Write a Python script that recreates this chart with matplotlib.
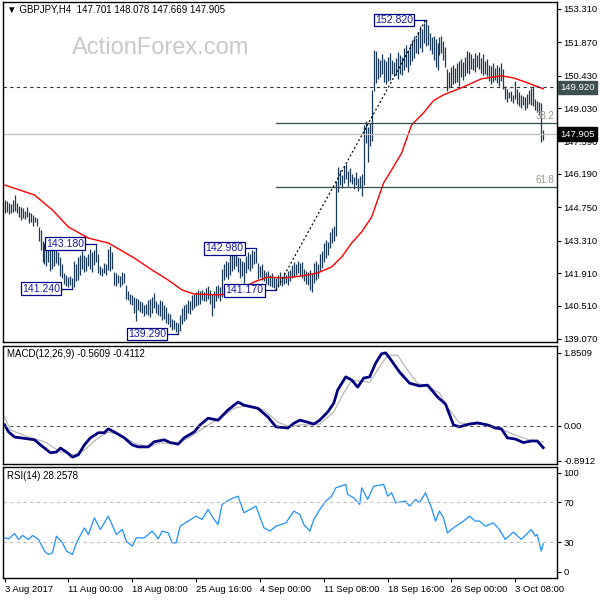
import matplotlib
matplotlib.use('Agg')
import matplotlib.pyplot as plt

plt.rcParams['font.family'] = ['Liberation Sans', 'DejaVu Sans']

# GBPJPY H4 bars (high / low), one per bar from 3 Aug 2017
highs = [
    145.05, 145.00, 144.95, 144.90, 145.05, 145.30, 144.95, 144.80, 144.75, 144.70,
    144.60, 144.75, 144.55, 144.50, 144.40, 144.35, 144.30, 143.90, 143.75, 143.30,
    143.20, 143.15, 143.35, 143.25, 143.10, 142.90, 143.00, 142.80, 142.60, 142.30,
    141.90, 141.85, 141.75, 141.80, 141.70, 142.45, 142.30, 142.60, 142.70, 142.85,
    142.70, 142.60, 142.75, 142.95, 142.80, 142.90, 143.18, 142.75, 142.20, 142.15,
    142.35, 142.30, 142.95, 143.10, 142.80, 141.95, 141.90, 141.85, 141.80, 141.95,
    141.90, 141.40, 141.15, 141.00, 140.95, 140.90, 140.85, 140.80, 140.70, 140.65,
    140.55, 140.60, 140.75, 140.80, 140.90, 141.05, 140.70, 140.60, 140.75, 140.70,
    140.55, 140.45, 140.20, 140.15, 139.95, 139.90, 139.80, 139.75, 140.10, 140.40,
    140.55, 140.60, 140.75, 140.70, 140.95, 141.00, 141.10, 141.20, 141.15, 141.20,
    141.10, 141.25, 141.35, 141.20, 141.00, 141.15, 141.35, 141.40, 141.30, 142.10,
    142.30, 142.45, 142.40, 142.70, 142.85, 142.80, 142.75, 142.60, 142.55, 142.45,
    142.40, 142.65, 142.80, 142.75, 142.90, 142.85, 142.98, 142.35, 142.20, 142.30,
    142.05, 141.95, 142.00, 141.85, 141.90, 141.75, 141.70, 141.85, 141.95, 141.80,
    141.95, 141.85, 142.00, 142.05, 142.25, 142.40, 142.30, 142.45, 142.35, 142.40,
    142.10, 142.00, 141.95, 142.05, 141.90, 142.35, 142.45, 142.30, 142.75, 142.85,
    143.20, 143.35, 143.25, 143.70, 143.85, 143.95, 145.90, 146.50, 146.35, 146.15,
    146.55, 146.60, 146.30, 146.45, 146.20, 146.05, 146.25, 146.00, 146.10, 146.20,
    148.30, 148.45, 148.20, 148.40, 149.80, 151.55, 151.50, 151.20, 151.10, 151.35,
    151.15, 151.05, 151.25, 151.40, 151.10, 151.00, 151.20, 151.45, 151.30, 151.25,
    151.60, 151.75, 151.55, 151.80, 151.95, 152.15, 152.05, 152.30, 152.55, 152.45,
    152.70, 152.82, 152.60, 152.25, 152.10, 152.15, 152.00, 151.85, 152.10, 152.15,
    151.90, 151.65, 150.70, 150.60, 150.80, 150.90, 150.75, 150.95, 151.05, 151.15,
    151.00, 151.25, 151.50, 151.45, 151.35, 151.20, 151.40, 151.30, 151.45, 151.20,
    151.35, 151.05, 151.15, 150.90, 150.85, 150.95, 150.75, 150.90, 150.80, 150.95,
    150.70, 150.00, 149.85, 149.70, 149.75, 149.60, 150.20, 149.85, 149.70, 149.60,
    149.55, 149.50, 149.65, 149.80, 149.90, 150.00, 149.40, 149.35, 149.30, 149.25,
    148.078,
]
lows = [
    144.50, 144.55, 144.45, 144.50, 144.55, 144.60, 144.50, 144.35, 144.20, 144.30,
    144.25, 144.35, 144.05, 144.10, 143.95, 144.10, 143.95, 143.30, 142.90, 142.40,
    142.30, 142.20, 142.40, 142.00, 142.10, 142.20, 142.35, 142.25, 141.80, 141.70,
    141.45, 141.35, 141.30, 141.40, 141.24, 141.30, 141.55, 141.60, 141.85, 142.10,
    141.95, 142.00, 142.20, 142.10, 141.95, 142.25, 142.40, 141.90, 141.85, 141.80,
    141.90, 141.85, 142.05, 142.00, 142.10, 141.40, 141.35, 141.50, 141.30, 141.40,
    141.50, 140.80, 140.75, 140.60, 140.55, 140.20, 139.85, 140.30, 140.25, 140.20,
    140.05, 140.15, 140.10, 140.00, 140.20, 140.40, 140.20, 140.10, 140.05, 139.90,
    139.95, 139.75, 139.70, 139.60, 139.45, 139.50, 139.35, 139.29, 139.40, 139.70,
    139.85, 139.95, 140.20, 140.15, 140.30, 140.40, 140.50, 140.55, 140.60, 140.75,
    140.70, 140.70, 140.80, 140.60, 140.05, 140.40, 140.70, 140.85, 140.70, 140.90,
    141.60, 141.75, 141.65, 141.85, 142.00, 142.10, 142.20, 141.95, 141.70, 141.80,
    141.50, 141.90, 142.10, 142.00, 142.15, 142.30, 142.35, 141.65, 141.75, 141.60,
    141.55, 141.45, 141.40, 141.35, 141.30, 141.25, 141.17, 141.30, 141.40, 141.35,
    141.45, 141.50, 141.40, 141.55, 141.70, 141.75, 141.85, 141.90, 141.80, 141.70,
    141.55, 141.45, 141.40, 141.20, 141.10, 141.50, 141.60, 141.70, 142.00, 142.15,
    142.40, 142.55, 142.70, 143.00, 143.20, 143.30, 143.50, 145.40, 145.70, 145.60,
    145.80, 145.95, 145.65, 145.85, 145.75, 145.55, 145.70, 145.45, 145.60, 145.25,
    145.70, 147.50, 146.70, 147.40, 147.60, 149.75, 150.10, 150.30, 150.35, 150.50,
    150.15, 150.05, 150.20, 150.25, 150.50, 150.40, 150.45, 150.30, 150.50, 150.45,
    150.65, 150.80, 150.60, 150.90, 151.05, 151.20, 151.40, 151.35, 151.60, 151.45,
    151.85, 151.70, 151.75, 151.55, 151.35, 151.10, 150.80, 150.65, 151.30, 151.40,
    151.10, 150.80, 149.75, 149.90, 149.95, 150.05, 150.10, 150.15, 150.00, 150.35,
    150.25, 150.40, 150.55, 150.50, 150.70, 150.65, 150.60, 150.80, 150.70, 150.55,
    150.45, 150.50, 150.40, 150.20, 150.05, 150.15, 150.25, 150.10, 150.00, 150.20,
    149.85, 149.40, 149.30, 149.45, 149.35, 149.25, 149.40, 149.20, 149.10, 149.05,
    149.15, 148.95, 149.05, 149.20, 149.15, 149.10, 148.95, 148.85, 148.75, 147.55,
    147.669,
]

# red moving average (bar index, value)
ma_idx = [0, 15, 24, 32, 42, 52, 65, 74, 82, 89, 95, 107, 115, 125, 132, 140, 149,
          157, 164, 169, 174, 179, 184, 187, 190, 194, 199, 204, 210, 215, 220, 229,
          239, 249, 255, 262, 270]
ma_val = [145.71, 145.28, 144.63, 143.90, 143.42, 143.21, 142.56, 142.04, 141.61,
          141.18, 141.01, 140.97, 141.05, 141.53, 141.74, 141.70, 141.79, 141.92,
          142.18, 142.61, 143.21, 143.69, 144.33, 145.07, 145.80, 146.36, 147.09,
          148.30, 148.82, 149.35, 149.60, 149.90, 150.29, 150.42, 150.33, 150.12,
          149.86]

macd_idx = [0, 2, 5, 8, 15, 18, 23, 26, 28, 31, 34, 37, 40, 43, 47, 50, 52, 56, 60,
            64, 67, 72, 75, 80, 83, 87, 90, 95, 98, 102, 107, 112, 117, 120, 127, 132,
            136, 142, 145, 148, 151, 155, 158, 162, 165, 167, 171, 174, 177, 180, 183,
            186, 189, 191, 193, 198, 203, 208, 212, 217, 221, 225, 228, 233, 237, 242,
            246, 249, 252, 256, 260, 264, 267, 270]
macd_val = [0.02, -0.16, -0.29, -0.31, -0.36, -0.49, -0.69, -0.67, -0.57, -0.67,
            -0.80, -0.74, -0.49, -0.31, -0.18, -0.18, -0.08, -0.19, -0.31, -0.49,
            -0.54, -0.54, -0.41, -0.36, -0.43, -0.47, -0.31, -0.16, 0.02, 0.19, 0.14,
            0.40, 0.60, 0.52, 0.44, 0.22, -0.03, -0.06, 0.06, 0.14, 0.10, 0.04, 0.14,
            0.35, 0.57, 0.91, 1.24, 1.16, 0.98, 1.21, 1.24, 1.59, 1.83, 1.85, 1.72,
            1.36, 1.08, 1.01, 1.03, 0.73, 0.55, 0.02, -0.03, 0.04, 0.07, 0.02, -0.06,
            -0.08, -0.31, -0.34, -0.43, -0.39, -0.39, -0.56]
sig_idx = [0, 3, 12, 20, 28, 35, 40, 47, 52, 58, 65, 72, 78, 87, 93, 102, 108, 115,
           122, 130, 137, 143, 148, 153, 158, 165, 170, 174, 183, 188, 192, 197, 202,
           207, 213, 218, 222, 228, 235, 243, 250, 257, 263, 268, 270]
sig_val = [0.22, -0.11, -0.29, -0.41, -0.67, -0.74, -0.62, -0.31, -0.16, -0.24,
           -0.44, -0.54, -0.44, -0.44, -0.29, 0.02, 0.19, 0.44, 0.52, 0.40, 0.09,
           -0.03, 0.02, 0.02, 0.04, 0.35, 0.83, 1.16, 1.10, 1.49, 1.79, 1.79, 1.41,
           1.08, 0.98, 0.83, 0.47, 0.07, 0.04, 0.02, -0.11, -0.26, -0.36, -0.41, -0.41]

rsi_idx = [0, 2, 5, 7, 9, 12, 14, 17, 20, 22, 24, 26, 29, 31, 34, 36, 40, 42, 45, 48,
           52, 56, 59, 61, 64, 66, 70, 74, 77, 79, 82, 84, 86, 88, 92, 96, 99, 102,
           105, 107, 109, 113, 117, 120, 123, 126, 130, 133, 136, 141, 145, 148, 150,
           153, 155, 158, 161, 164, 166, 171, 172, 175, 178, 179, 182, 185, 190, 192,
           194, 196, 201, 203, 206, 208, 211, 214, 216, 218, 220, 222, 225, 230, 233,
           236, 238, 241, 245, 248, 251, 255, 259, 264, 266, 267, 269, 270]
rsi_val = [34.3, 33.3, 38.7, 32.7, 36.7, 32.7, 36.7, 32.7, 20.9, 17.5, 19.2, 36.0,
           29.3, 20.9, 17.5, 29.3, 44.4, 37.7, 54.5, 42.8, 56.2, 37.7, 42.8, 31.0,
           25.9, 34.3, 34.3, 41.1, 33.3, 41.1, 39.4, 29.3, 29.3, 46.1, 51.2, 56.2,
           52.9, 63.0, 52.9, 47.8, 68.0, 73.1, 76.4, 59.6, 63.0, 66.3, 44.4, 41.1,
           46.1, 49.5, 61.3, 57.9, 47.8, 41.1, 52.9, 63.0, 71.4, 76.4, 84.8, 88.2,
           78.1, 74.7, 68.0, 84.8, 73.1, 86.5, 88.2, 76.4, 79.8, 69.7, 71.4, 66.3,
           73.1, 69.7, 79.8, 64.6, 51.2, 61.3, 54.5, 39.4, 44.4, 51.2, 56.2, 51.2,
           51.2, 46.1, 49.5, 42.8, 32.7, 40.1, 32.7, 42.8, 36.0, 37.7, 20.9, 28.3]

price_ticks = [153.310, 151.870, 150.430, 149.030, 147.590, 146.190, 144.750,
               143.310, 141.910, 140.510, 139.070]
date_idx = [0, 32, 64, 96, 128, 160, 192, 224, 256]
date_labels = ['3 Aug 2017', '11 Aug 00:00', '18 Aug 08:00', '25 Aug 16:00',
               '4 Sep 00:00', '11 Sep 08:00', '18 Sep 16:00', '26 Sep 00:00',
               '3 Oct 08:00']

swing_idx = [211, 46, 34, 87, 126, 136]
swing_val = [152.820, 143.180, 141.240, 139.290, 142.980, 141.170]

fib_start, fib_end = 136, 211
fib_levels = [38.2, 61.8]
stop_line = 149.920
last_price = 147.905

bar_col = '#1b3a57'
navy = '#00008b'
xmin, xmax = -0.8, 276.8

fig = plt.figure(figsize=(6, 6), dpi=100)
ax1 = fig.add_axes([0.005, 0.43, 0.923, 0.567])
ax2 = fig.add_axes([0.005, 0.227, 0.923, 0.196])
ax3 = fig.add_axes([0.005, 0.037, 0.923, 0.185])

for ax in (ax1, ax2, ax3):
    ax.set_xlim(xmin, xmax)
    ax.yaxis.tick_right()
    ax.tick_params(axis='y', length=3, width=0.8, labelsize=6.8, pad=2)
    for s in ax.spines.values():
        s.set_linewidth(1)
        s.set_color('black')

# main chart
idx = list(range(len(highs)))
ax1.vlines(idx, lows, highs, color=bar_col, lw=0.9)
ax1.plot(ma_idx, ma_val, color='red', lw=1.0)

ax1.axhline(stop_line, color='#333333', lw=0.8, ls=(0, (3, 3)))
ax1.axhline(last_price, color='#bdbdbd', lw=0.9)

lo, hi = swing_val[5], swing_val[0]
ax1.plot([fib_start, fib_end], [lo, hi], color='black', lw=0.9, ls=(0, (1.5, 2)))
for f in fib_levels:
    lvl = hi - f / 100 * (hi - lo)
    ax1.plot([fib_start, xmax], [lvl, lvl], color='#2f4f4f', lw=0.9)
    ax1.text(xmax - 1, lvl + 0.08, f'{f:.1f}', ha='right', va='bottom',
             fontsize=7, color='#9a9488')

for i, v in zip(swing_idx, swing_val):
    ax1.plot([i - 5.5, i], [v, v], color=navy, lw=0.9)
    ax1.text(i - 6.2, v, f'{v:.3f}', ha='right', va='center', fontsize=7.6,
             color='#1a1aa6',
             bbox=dict(boxstyle='square,pad=0.12', fc='white', ec=navy, lw=0.9))

ax1.set_ylim(138.94, 153.61)
ax1.set_yticks(price_ticks, [f'{t:.3f}' for t in price_ticks])
ax1.set_xticks([])

yt = ax1.get_yaxis_transform()
ax1.text(1.006, stop_line, f'{stop_line:.3f}', transform=yt, ha='left', va='center',
         fontsize=6.8, color='white', zorder=5,
         bbox=dict(boxstyle='square,pad=0.25', fc='#3d4f4f', ec='#3d4f4f'))
ax1.text(1.006, last_price, f'{last_price:.3f}', transform=yt, ha='left', va='center',
         fontsize=6.8, color='white', zorder=5,
         bbox=dict(boxstyle='square,pad=0.25', fc='black', ec='black'))

# MACD
ax2.plot(sig_idx, sig_val, color='#b8b8b8', lw=0.9)
ax2.plot(macd_idx, macd_val, color='#000080', lw=2.0)
ax2.axhline(0, color='#555555', lw=0.8, ls=(0, (3, 3)))
ax2.set_ylim(-0.97, 2.02)
ax2.set_yticks([1.8509, 0, -0.8912], ['1.8509', '0.00', '-0.8912'])
ax2.set_xticks([])

# RSI
ax3.plot(rsi_idx, rsi_val, color='#1e90ff', lw=0.9)
for lvl in (70, 30):
    ax3.axhline(lvl, color='#c0c0c0', lw=0.8, ls=(0, (3, 3)))
ax3.set_ylim(-6, 106)
ax3.set_yticks([100, 70, 30, 0], ['100', '70', '30', '0'])
ax3.set_xticks(date_idx, date_labels, ha='left')
ax3.tick_params(axis='x', length=3, width=0.8, labelsize=6.8, pad=2)

fig.text(7 / 600, 1 - 10 / 600, '\u25bc GBPJPY,H4  147.701 148.078 147.669 147.905',
         fontsize=7, va='center', ha='left')
fig.text(72 / 600, 1 - 48 / 600, 'ActionForex.com', fontsize=17, color='#c8c8c8',
         va='center', ha='left')
fig.text(7 / 600, 1 - 354 / 600, 'MACD(12,26,9) -0.5609 -0.4112', fontsize=7,
         va='center', ha='left')
fig.text(7 / 600, 1 - 476 / 600, 'RSI(14) 28.2578', fontsize=7, va='center', ha='left')

fig.savefig('out.png', dpi=100, facecolor='white')
